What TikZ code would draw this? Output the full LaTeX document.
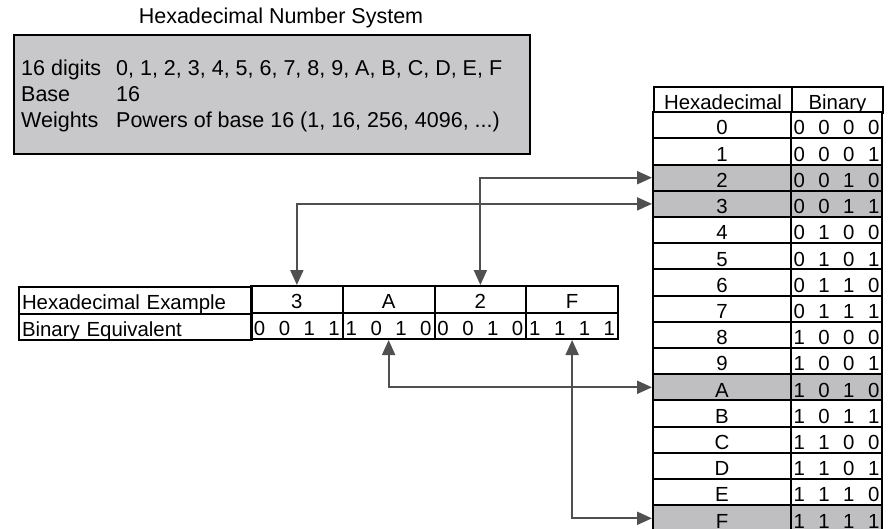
\documentclass[tikz,border=0pt]{standalone}
\usepackage{fontspec}
\setmainfont{Liberation Sans}
\usetikzlibrary{arrows.meta}
\definecolor{boxgrey}{RGB}{200,200,202}
\definecolor{rowgrey}{RGB}{191,191,193}
\definecolor{linkgrey}{RGB}{80,80,80}

\begin{document}
\begin{tikzpicture}[x=1pt, y=-1pt,
    every node/.style={font=\fontsize{20.4}{25}\selectfont, inner sep=0pt},
    cell/.style={draw, line width=2pt, text height=19.4pt, text depth=0pt},
    bits/.style={execute at begin node={\spaceskip=13.5pt\relax}},
    big/.style={font=\fontsize{21.5}{25.8}\selectfont},
    link/.style={linkgrey, line width=2pt,
      {Triangle[length=15pt,width=13pt]}-{Triangle[length=15pt,width=13pt]}}]

    \useasboundingbox (0,0) rectangle (888,529);

    % Define table sizes
    \def\rowh{26.2}
    \def\cellw{91.75}

    % Title and summary box
    \node[big] (title) at (281,18) {Hexadecimal Number System};
    \node[draw, line width=2.2pt, fill=boxgrey, minimum width=516pt, minimum height=119pt,
      anchor=north west] (sysbox) at (13,34) {};
    \node[big, anchor=north west] (systext) at (21,57.6) {%
      \begin{tabular}{@{}p{95pt}@{}l@{}}
        16 digits & 0, 1, 2, 3, 4, 5, 6, 7, 8, 9, A, B, C, D, E, F\\
        Base & 16\\
        Weights & Powers of base 16 (1, 16, 256, 4096, ...)
      \end{tabular}};

    % Draw the conversion table
    \node[cell, minimum width=138pt, minimum height=26.2pt, anchor=north west] (hexhead) at (653,86) {Hexadecimal};
    \node[cell, minimum width=91pt, minimum height=26.2pt, anchor=north west] (binhead) at (791,86) {Binary};
    \foreach \hx/\bn/\fl [count=\i from 0] in {0/0 0 0 0/white, 1/0 0 0 1/white, 2/0 0 1 0/rowgrey,
        3/0 0 1 1/rowgrey, 4/0 1 0 0/white, 5/0 1 0 1/white, 6/0 1 1 0/white, 7/0 1 1 1/white,
        8/1 0 0 0/white, 9/1 0 0 1/white, A/1 0 1 0/rowgrey, B/1 0 1 1/white, C/1 1 0 0/white,
        D/1 1 0 1/white, E/1 1 1 0/white, F/1 1 1 1/rowgrey} {
      \node[cell, fill=\fl, minimum width=138pt, minimum height=26.2pt] (hex-\hx) at (722,125.3+\i*\rowh) {\hx};
      \node[cell, fill=\fl, bits, minimum width=91pt, minimum height=26.2pt] (bin-\hx) at (836.5,125.3+\i*\rowh) {\bn};
    }

    % Draw the example
    \node[cell, minimum height=26.5pt, text width=227pt, inner xsep=3pt, align=left,
      anchor=north west] (exlabel) at (18,286) {Hexadecimal Example};
    \node[cell, minimum height=26.5pt, text width=227pt, inner xsep=3pt, align=left,
      anchor=north west] (eqlabel) at (18,312.5) {Binary Equivalent};
    \foreach \hx/\bn [count=\i from 0] in {3/0 0 1 1, A/1 0 1 0, 2/0 0 1 0, F/1 1 1 1} {
      \node[cell, minimum width=91.75pt, minimum height=26.5pt] (ex-\hx) at (296.875+\i*\cellw,299.25) {\hx};
      \node[cell, bits, minimum width=91.75pt, minimum height=26.5pt] (eq-\hx) at (296.875+\i*\cellw,325.75) {\bn};
    }

    % Links to the table
    \draw[link] (ex-3.north) |- (hex-3.west);
    \draw[link] (ex-2.north) |- (hex-2.west);
    \draw[link] (eq-A.south) |- (hex-A.west);
    \draw[link] (eq-F.south) |- (hex-F.west);
\end{tikzpicture}
\end{document}
